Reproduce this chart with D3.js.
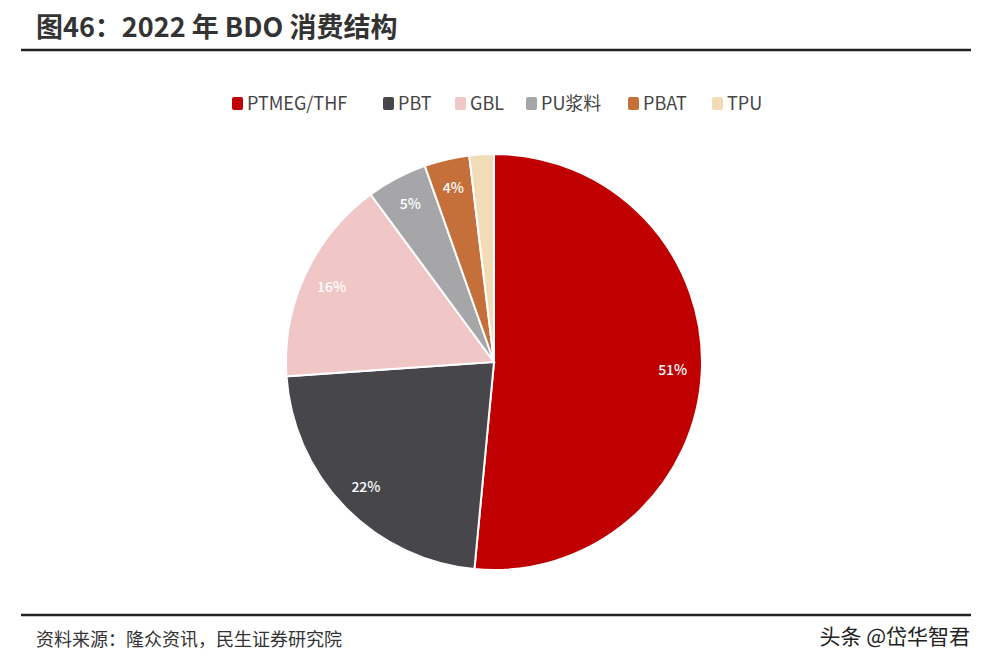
<!DOCTYPE html>
<html><head><meta charset="utf-8">
<script src="https://cdn.jsdelivr.net/npm/d3@7"></script>
<style>body{margin:0;background:#fff}svg{display:block}</style>
</head><body>
<svg id="chart" width="992" height="668"></svg>
<script>
const categories = ["PTMEG/THF", "PBT", "GBL", "PU浆料", "PBAT", "TPU"];
const shares = [51.5, 22.4, 16, 4.7, 3.5, 1.9];
const labels = ["51%", "22%", "16%", "5%", "4%", ""];
const colors = ["#c00000", "#47474b", "#f0c6c6", "#a6a6a8", "#c5703a", "#f2dcb8"];

const svg = d3.select("#chart");
const font = "'Noto Sans CJK SC', 'Noto Sans', sans-serif";

svg.append("text").attr("x", 36).attr("y", 37).attr("font-family", font)
  .attr("font-size", 27).attr("font-weight", 700).attr("fill", "#333")
  .text("图46：2022 年 BDO 消费结构");
svg.append("line").attr("x1", 21).attr("x2", 971).attr("y1", 50).attr("y2", 50)
  .attr("stroke", "#222").attr("stroke-width", 2.5);
svg.append("line").attr("x1", 21).attr("x2", 971).attr("y1", 615).attr("y2", 615)
  .attr("stroke", "#222").attr("stroke-width", 2.5);
svg.append("text").attr("x", 36).attr("y", 646).attr("font-family", font)
  .attr("font-size", 18).attr("fill", "#333").text("资料来源：隆众资讯，民生证券研究院");
svg.append("text").attr("x", 970).attr("y", 644).attr("text-anchor", "end").attr("font-family", font)
  .attr("font-size", 21).attr("fill", "#222").text("头条 @岱华智君");

// legend
const color = d3.scaleOrdinal().domain(categories).range(colors);
const legendX = [232, 383, 455, 526, 628, 712];
const lg = svg.append("g").selectAll("g").data(categories).join("g")
  .attr("transform", (d, i) => `translate(${legendX[i]},104)`);
lg.append("rect").attr("x", 0).attr("y", -7).attr("width", 11).attr("height", 13).attr("rx", 2)
  .attr("fill", d => color(d));
lg.append("text").attr("x", 15).attr("y", 6).attr("font-family", font).attr("font-size", 18)
  .attr("fill", "#444").text(d => d);

// pie
const cx = 494, cy = 362, r = 208;
const pie = d3.pie().sort(null).value(d => d)(shares);
const arc = d3.arc().innerRadius(0).outerRadius(r);
const g = svg.append("g").attr("transform", `translate(${cx},${cy})`);
g.selectAll("path").data(pie).join("path")
  .attr("d", arc).attr("fill", (d, i) => colors[i]).attr("stroke", "#fff").attr("stroke-width", 2);
const labelArc = d3.arc().innerRadius(r * 0.86).outerRadius(r * 0.86);
g.selectAll("text").data(pie).join("text")
  .attr("transform", d => `translate(${labelArc.centroid(d)})`)
  .attr("text-anchor", "middle").attr("dy", "0.35em")
  .attr("font-family", font).attr("font-size", 14).attr("font-weight", 500).attr("fill", "#fff")
  .text((d, i) => labels[i]);
</script>
</body></html>
